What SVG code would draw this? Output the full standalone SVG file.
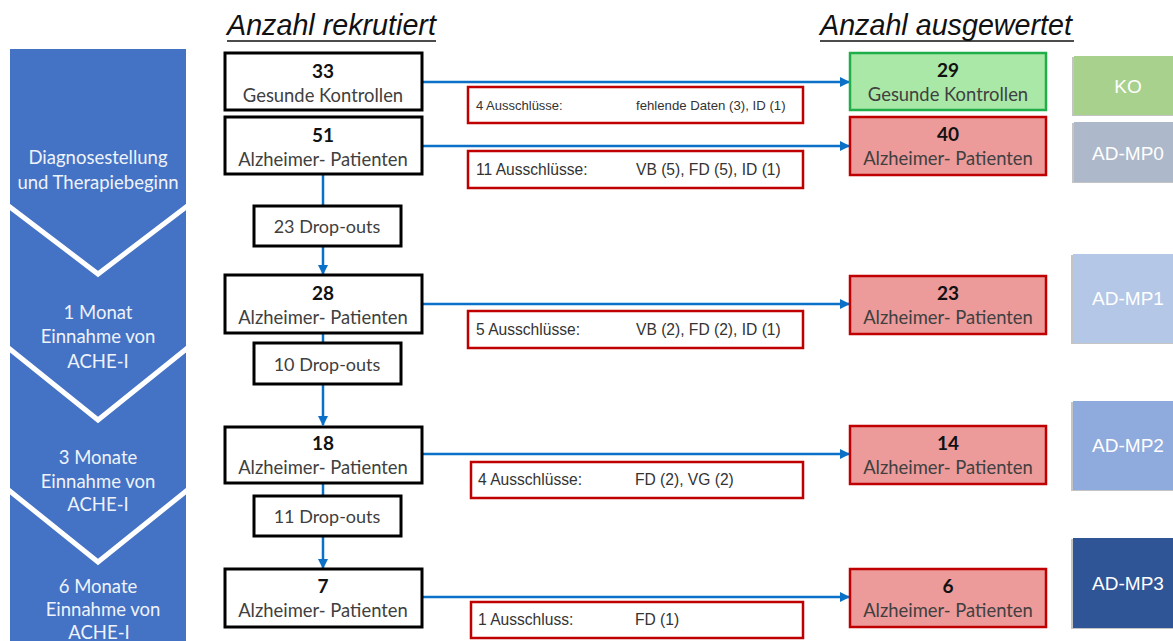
<svg xmlns="http://www.w3.org/2000/svg" width="1173" height="641" viewBox="0 0 1173 641">
<style>
.cal{font-family:Lato,"Open Sans","Noto Sans",sans-serif}
.ari{font-family:"Liberation Sans",Arial,sans-serif}
.chev{fill:#eef2fa;font-size:18.5px;text-anchor:middle}
.box{fill:#fff;stroke:#000;stroke-width:3}
.num{font-size:19px;font-weight:bold;fill:#111;text-anchor:middle}
.lbl{font-size:18.4px;fill:#404040;text-anchor:middle}
.dl{font-size:18px;fill:#404040;text-anchor:middle}
.good{fill:#a9e8a7;stroke:#1fae4a;stroke-width:2.5}
.bad{fill:#ec9a9a;stroke:#c00000;stroke-width:2.5}
.exc{fill:#fff;stroke:#c00000;stroke-width:2.5}
.et{fill:#333}
.conn{stroke:#0a70c8;stroke-width:2.5;fill:none}
.tag{fill:#fff;font-size:19px;text-anchor:middle}
.head{font-size:28.7px;font-style:italic;fill:#111}
</style>
<defs>
<marker id="ah" viewBox="0 0 10 10" refX="9" refY="5" markerWidth="4" markerHeight="4" orient="auto" markerUnits="strokeWidth">
<path d="M0,0 L10,5 L0,10 z" fill="#0a70c8"/>
</marker>
</defs>
<rect width="1173" height="641" fill="#fff"/>

<g id="timeline">
<rect x="10" y="49" width="176" height="600" fill="#4472c4"/>
<polyline points="6,204 98,274 190,204" fill="none" stroke="#fff" stroke-width="5"/>
<polyline points="6,346 98,420 190,346" fill="none" stroke="#fff" stroke-width="5"/>
<polyline points="6,488 98,562 190,488" fill="none" stroke="#fff" stroke-width="5"/>
<text class="cal chev" x="98" y="164">Diagnosestellung</text>
<text class="cal chev" x="98" y="189">und Therapiebeginn</text>
<text class="cal chev" x="98" y="319">1 Monat</text>
<text class="cal chev" x="98" y="343">Einnahme von</text>
<text class="cal chev" x="98" y="368">ACHE-I</text>
<text class="cal chev" x="98" y="464">3 Monate</text>
<text class="cal chev" x="98" y="488">Einnahme von</text>
<text class="cal chev" x="98" y="511">ACHE-I</text>
<text class="cal chev" x="98" y="593">6 Monate</text>
<text class="cal chev" x="103" y="616">Einnahme von</text>
<text class="cal chev" x="99" y="639">ACHE-I</text>
</g>

<g id="headings">
<text class="ari head" x="227" y="35">Anzahl rekrutiert</text>
<line x1="227" y1="41" x2="436" y2="41" stroke="#111" stroke-width="1.6"/>
<text class="ari head" x="820" y="35">Anzahl ausgewertet</text>
<line x1="820" y1="41" x2="1074" y2="41" stroke="#111" stroke-width="1.6"/>
</g>

<g id="connectors">
<line class="conn" x1="422" y1="82" x2="849" y2="82" marker-end="url(#ah)"/>
<line class="conn" x1="422" y1="146" x2="849" y2="146" marker-end="url(#ah)"/>
<line class="conn" x1="422" y1="304" x2="849" y2="304" marker-end="url(#ah)"/>
<line class="conn" x1="422" y1="454" x2="849" y2="454" marker-end="url(#ah)"/>
<line class="conn" x1="422" y1="597" x2="849" y2="597" marker-end="url(#ah)"/>
<line class="conn" x1="323" y1="174" x2="323" y2="206"/>
<line class="conn" x1="323" y1="246" x2="323" y2="274" marker-end="url(#ah)"/>
<line class="conn" x1="323" y1="333" x2="323" y2="343"/>
<line class="conn" x1="323" y1="384" x2="323" y2="425" marker-end="url(#ah)"/>
<line class="conn" x1="323" y1="483" x2="323" y2="496"/>
<line class="conn" x1="323" y1="536" x2="323" y2="568" marker-end="url(#ah)"/>
</g>

<g id="rec-ko">
<rect class="box" x="225" y="53" width="197" height="57"/>
<text class="cal num" x="323" y="78">33</text>
<text class="cal lbl" x="323" y="102">Gesunde Kontrollen</text>
</g>
<g id="rec-mp0">
<rect class="box" x="225" y="117" width="197" height="57"/>
<text class="cal num" x="323" y="142">51</text>
<text class="cal lbl" x="323" y="166">Alzheimer- Patienten</text>
</g>
<g id="drop-1">
<rect class="box" x="254" y="206" width="147" height="40"/>
<text class="cal dl" x="327" y="233">23 Drop-outs</text>
</g>
<g id="rec-mp1">
<rect class="box" x="225" y="275" width="197" height="58"/>
<text class="cal num" x="323" y="300">28</text>
<text class="cal lbl" x="323" y="324">Alzheimer- Patienten</text>
</g>
<g id="drop-2">
<rect class="box" x="254" y="343" width="147" height="41"/>
<text class="cal dl" x="327" y="371">10 Drop-outs</text>
</g>
<g id="rec-mp2">
<rect class="box" x="225" y="427" width="197" height="56"/>
<text class="cal num" x="323" y="450">18</text>
<text class="cal lbl" x="323" y="474">Alzheimer- Patienten</text>
</g>
<g id="drop-3">
<rect class="box" x="254" y="496" width="147" height="40"/>
<text class="cal dl" x="327" y="523">11 Drop-outs</text>
</g>
<g id="rec-mp3">
<rect class="box" x="225" y="569" width="197" height="58"/>
<text class="cal num" x="323" y="593">7</text>
<text class="cal lbl" x="323" y="617">Alzheimer- Patienten</text>
</g>

<g id="exc-ko">
<rect class="exc" x="468" y="87" width="335" height="36"/>
<text class="ari et" x="476" y="110" font-size="13">4 Ausschlüsse:</text>
<text class="ari et" x="636" y="110" font-size="13.2">fehlende Daten (3), ID (1)</text>
</g>
<g id="exc-mp0">
<rect class="exc" x="468" y="151" width="335" height="37"/>
<text class="ari et" x="476" y="175" font-size="15.6">11 Ausschlüsse:</text>
<text class="ari et" x="636" y="175" font-size="15.6">VB (5), FD (5), ID (1)</text>
</g>
<g id="exc-mp1">
<rect class="exc" x="468" y="311" width="335" height="37"/>
<text class="ari et" x="476" y="335" font-size="15.6">5 Ausschlüsse:</text>
<text class="ari et" x="636" y="335" font-size="15.6">VB (2), FD (2), ID (1)</text>
</g>
<g id="exc-mp2">
<rect class="exc" x="471" y="462" width="332" height="36"/>
<text class="ari et" x="478" y="485" font-size="15.6">4 Ausschlüsse:</text>
<text class="ari et" x="635" y="485" font-size="15.6">FD (2), VG (2)</text>
</g>
<g id="exc-mp3">
<rect class="exc" x="471" y="602" width="332" height="36"/>
<text class="ari et" x="478" y="625" font-size="15.6">1 Ausschluss:</text>
<text class="ari et" x="635" y="625" font-size="15.6">FD (1)</text>
</g>

<g id="eval-ko">
<rect class="good" x="850" y="53" width="196" height="57"/>
<text class="cal num" x="948" y="77">29</text>
<text class="cal lbl" x="948" y="101">Gesunde Kontrollen</text>
</g>
<g id="eval-mp0">
<rect class="bad" x="850" y="117" width="196" height="58"/>
<text class="cal num" x="948" y="141">40</text>
<text class="cal lbl" x="948" y="165">Alzheimer- Patienten</text>
</g>
<g id="eval-mp1">
<rect class="bad" x="850" y="276" width="196" height="58"/>
<text class="cal num" x="948" y="300">23</text>
<text class="cal lbl" x="948" y="324">Alzheimer- Patienten</text>
</g>
<g id="eval-mp2">
<rect class="bad" x="850" y="426" width="196" height="58"/>
<text class="cal num" x="948" y="450">14</text>
<text class="cal lbl" x="948" y="474">Alzheimer- Patienten</text>
</g>
<g id="eval-mp3">
<rect class="bad" x="850" y="569" width="196" height="58"/>
<text class="cal num" x="948" y="593">6</text>
<text class="cal lbl" x="948" y="617">Alzheimer- Patienten</text>
</g>

<g id="tag-ko">
<rect x="1072" y="57" width="110" height="59" fill="#8a8a8a" opacity="0.5"/>
<rect x="1074" y="56" width="110" height="59" fill="#a9d18e"/>
<text class="ari tag" x="1128" y="93">KO</text>
</g>
<g id="tag-mp0">
<rect x="1072" y="123" width="110" height="60" fill="#8a8a8a" opacity="0.5"/>
<rect x="1074" y="122" width="110" height="60" fill="#adb9ca"/>
<text class="ari tag" x="1128" y="160">AD-MP0</text>
</g>
<g id="tag-mp1">
<rect x="1071" y="255" width="110" height="89" fill="#8a8a8a" opacity="0.5"/>
<rect x="1073" y="254" width="110" height="89" fill="#b4c7e7"/>
<text class="ari tag" x="1128" y="305">AD-MP1</text>
</g>
<g id="tag-mp2">
<rect x="1071" y="402" width="110" height="89" fill="#8a8a8a" opacity="0.5"/>
<rect x="1073" y="401" width="110" height="89" fill="#8faadc"/>
<text class="ari tag" x="1128" y="452">AD-MP2</text>
</g>
<g id="tag-mp3">
<rect x="1071" y="539" width="110" height="90" fill="#8a8a8a" opacity="0.5"/>
<rect x="1073" y="538" width="110" height="90" fill="#2f5597"/>
<text class="ari tag" x="1128" y="590">AD-MP3</text>
</g>
</svg>
